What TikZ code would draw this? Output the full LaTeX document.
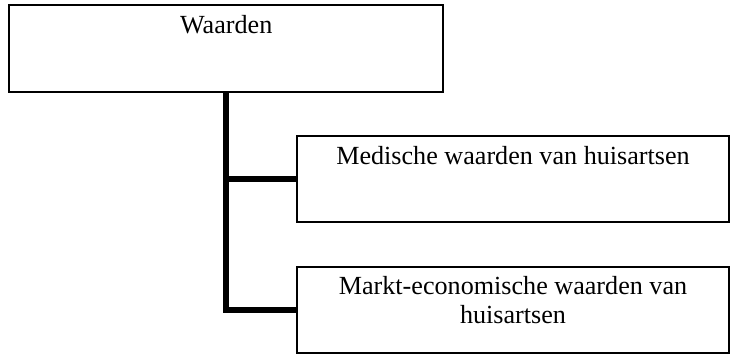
\documentclass[tikz,border=0pt]{standalone}
\usepackage{fontspec}
\setmainfont{Liberation Serif}
\usepackage{tikz}
\usepackage{xcolor}
\tikzstyle{valueBlock}=[draw,line width=1.2pt,align=center,inner sep=0pt,text height=0pt,text depth=22.5pt,font=\fontsize{19.6pt}{21.8pt}\selectfont]
\tikzstyle{topBlock}=[valueBlock,minimum width=325.5pt,minimum height=65.25pt]
\tikzstyle{subBlock}=[valueBlock,minimum width=324pt,minimum height=64.5pt]
\tikzstyle{twoLineBlock}=[subBlock,text height=20.25pt,text depth=0pt]
\tikzstyle{branchLine}=[line width=4.5pt,line join=miter]

\begin{document}
\begin{tikzpicture}[x=0.75pt,y=-0.75pt]
        \useasboundingbox (0, 0) rectangle (731, 360);

        % Values
        \node[topBlock] (waarden) at (226.2, 48.5) {Waarden};

        % Sub-values
        \node[subBlock] (medisch) at (513, 179) {Medische waarden van huisartsen};
        \node[twoLineBlock] (markt) at (513, 310) {Markt-economische waarden van\\huisartsen};

        % Values -> Sub-values
        \draw[branchLine] (waarden.south) |- (medisch.west);
        \draw[branchLine] (waarden.south) |- (markt.west);
    \end{tikzpicture}
\end{document}
